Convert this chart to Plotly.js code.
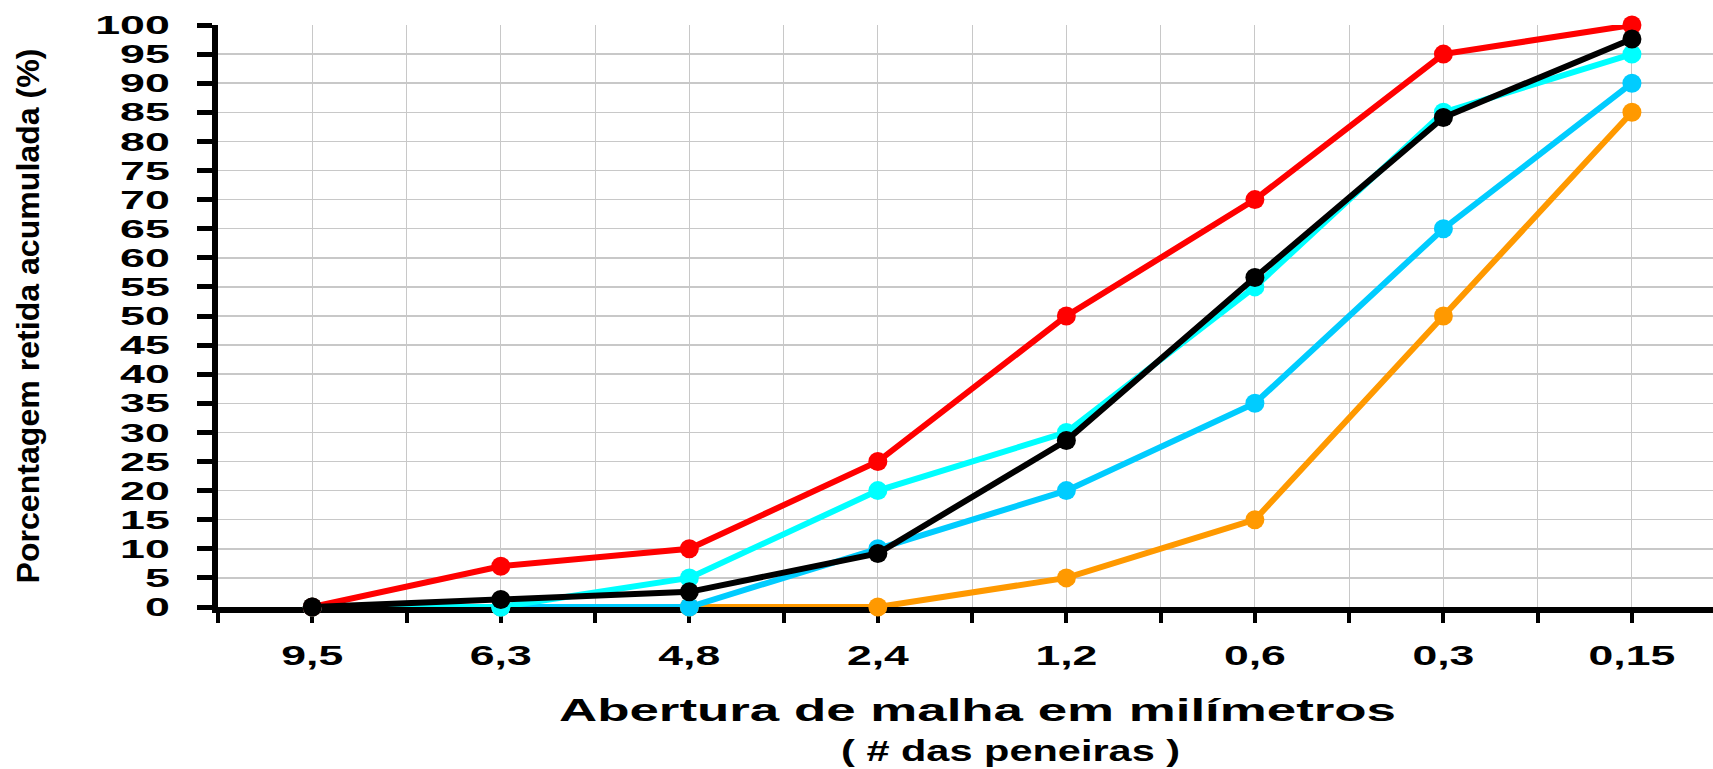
<!DOCTYPE html>
<html><head><meta charset="utf-8">
<script src="https://cdn.plot.ly/plotly-3.0.1.min.js"></script>
<style>html,body{margin:0;padding:0;background:#fff;overflow:hidden}#chart{width:1713px;height:769px}</style>
</head><body><div id="chart"></div>
<script>
// ---- data ----
const categories = ['9,5','6,3','4,8','2,4','1,2','0,6','0,3','0,15'];
const utilInferior  = [0, 0, 0, 0, 5, 15, 50, 85];
const otimaInferior = [0, 0, 0, 10, 20, 35, 65, 90];
const otimaSuperior = [0, 0, 5, 20, 30, 55, 85, 95];
const utilSuperior  = [0, 7, 10, 25, 50, 70, 95, 100];
const amostra       = [0, 1.3, 2.6, 9.2, 28.6, 56.6, 84.1, 97.6];
const xTitle = 'Abertura de malha em milímetros';
const xTitle2 = '( # das peneiras )';
const yTitle = 'Porcentagem retida acumulada (%)';

const FONT = 'Liberation Sans, Arial, sans-serif';
const xIdx = categories.map((_, i) => i);
const tickVals = [], tickText = [];
for (let k = -1; k <= 2 * categories.length; k++) {
  const v = k / 2;
  tickVals.push(v);
  tickText.push(Number.isInteger(v) && categories[v] !== undefined ? categories[v] : '');
}

function tr(y, color) {
  return {
    x: xIdx, y: y, type: 'scatter', mode: 'lines+markers', cliponaxis: false,
    line: {color: color, width: 6},
    marker: {color: color, size: 19, symbol: 'circle'},
    hoverinfo: 'skip'
  };
}
const data = [
  tr(utilInferior, '#ff9900'),
  tr(otimaInferior, '#00ccff'),
  tr(otimaSuperior, '#00ffff'),
  tr(utilSuperior, '#ff0000'),
  tr(amostra, '#000000')
];

const layout = {
  width: 1713, height: 769,
  margin: {l: 218, r: 0, t: 25, b: 162},
  showlegend: false,
  paper_bgcolor: '#ffffff', plot_bgcolor: '#ffffff',
  xaxis: {
    range: [-0.5, 7.43], tickmode: 'array', tickvals: tickVals, ticktext: tickText,
    showgrid: true, gridcolor: '#c8c8c8', gridwidth: 1, zeroline: false,
    showline: true, linecolor: '#000', linewidth: 6,
    ticks: 'outside', ticklen: 10, tickwidth: 4, tickcolor: '#000',
    tickfont: {family: FONT, size: 27, color: '#000', weight: 'bold'},
    ticklabelstandoff: 10,
    layer: 'below traces', fixedrange: true,
    title: {text: xTitle, font: {family: FONT, size: 31, color: '#000', weight: 'bold'}, standoff: 31}
  },
  yaxis: {
    range: [0, 100], tickmode: 'linear', tick0: 0, dtick: 5,
    showgrid: true, gridcolor: '#c8c8c8', gridwidth: 1.5, zeroline: false,
    showline: true, linecolor: '#000', linewidth: 6,
    ticks: 'outside', ticklen: 15, tickwidth: 5, tickcolor: '#000',
    tickfont: {family: FONT, size: 26, color: '#000', weight: 'bold'},
    ticklabelstandoff: 22,
    layer: 'below traces', fixedrange: true,
    title: {text: yTitle, font: {family: FONT, size: 31, color: '#000', weight: 'bold'}, standoff: 80}
  },
  annotations: [{
    text: xTitle2, xref: 'paper', yref: 'paper', x: 0.53, y: -0.247,
    xanchor: 'center', yanchor: 'middle', showarrow: false,
    font: {family: FONT, size: 30, color: '#000', weight: 'bold'}
  }]
};

function stretch(sel, factor, target) {
  document.querySelectorAll(sel).forEach(t => {
    const w = t.getComputedTextLength();
    if (!w) return;
    t.setAttribute('textLength', target ? target : w * factor);
    t.setAttribute('lengthAdjust', 'spacingAndGlyphs');
  });
}

Plotly.newPlot('chart', data, layout, {staticPlot: true, displayModeBar: false}).then(() => {
  stretch('.xtick text', 1.65);
  stretch('.ytick text', 1.72);
  stretch('.g-xtitle text', 0, 837);
  stretch('.annotation-text', 0, 339);
  stretch('.g-ytitle text', 0, 535);
  const xt = document.querySelector('.g-xtitle text');
  if (xt) xt.setAttribute('dx', 12);
});
</script>
</body></html>
